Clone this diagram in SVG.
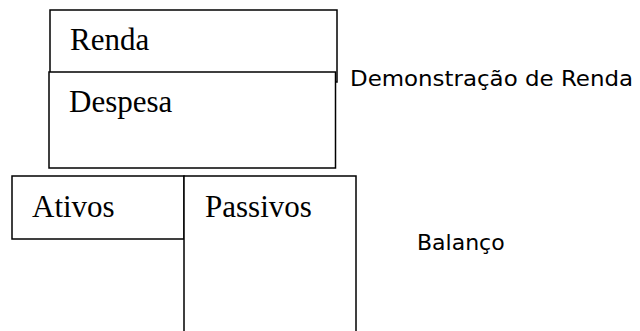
<svg xmlns="http://www.w3.org/2000/svg" width="640" height="331" viewBox="0 0 640 331">
<style>
.box{fill:#fff;stroke:#000;stroke-width:1.5}
.serif{font-family:"Liberation Serif","Times New Roman",serif;font-size:31px;fill:#000}
.sans{font-family:"DejaVu Sans",Verdana,sans-serif;font-size:22px;fill:#000}
</style>
<rect width="640" height="331" fill="#fff"/>
<g id="renda">
<rect class="box" x="50" y="10" width="287" height="72"/>
<text class="serif" x="70" y="50">Renda</text>
</g>
<g id="despesa">
<rect class="box" x="49" y="72" width="286.5" height="96"/>
<text class="serif" x="69" y="112">Despesa</text>
</g>
<g id="ativos">
<rect class="box" x="12" y="176" width="172" height="63"/>
<text class="serif" x="32" y="217">Ativos</text>
</g>
<g id="passivos">
<rect class="box" x="184" y="176" width="172" height="170"/>
<text class="serif" x="205" y="217">Passivos</text>
</g>
<g id="labels">
<text class="sans" x="350" y="86" textLength="283" lengthAdjust="spacingAndGlyphs">Demonstração de Renda</text>
<text class="sans" x="417" y="250">Balanço</text>
</g>
<g id="connectors"></g>
</svg>
